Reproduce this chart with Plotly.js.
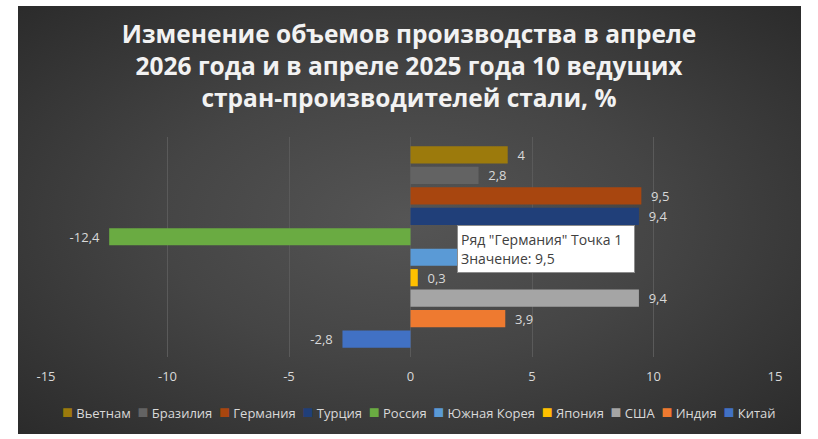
<!DOCTYPE html>
<html>
<head>
<meta charset="utf-8">
<script src="https://cdn.plot.ly/plotly-3.0.1.min.js"></script>
<style>
  html, body { margin: 0; padding: 0; background: #ffffff; }
  #wrap { position: relative; width: 818px; height: 439px; }
  #bg { position: absolute; left: 18px; top: 6px; width: 783px; height: 428px;
        background: radial-gradient(ellipse at 50% 50%, #555555 0%, #454545 45%, #2b2b2b 100%); }
  #chart { position: absolute; left: 0; top: 0; width: 818px; height: 439px; }
</style>
</head>
<body>
<div id="wrap"><div id="bg"></div><div id="chart"></div></div>
<script>
// Data (legend order, top to bottom)
const countries = ["Вьетнам", "Бразилия", "Германия", "Турция", "Россия", "Южная Корея", "Япония", "США", "Индия", "Китай"];
const values    = [4, 2.8, 9.5, 9.4, -12.4, 4.9, 0.3, 9.4, 3.9, -2.8];
const colors    = ["#9C7A0C", "#636363", "#A8460F", "#203F79", "#6AAB42", "#5A9AD6", "#FFC000", "#A5A5A5", "#EE7A30", "#4171C4"];
const category  = ["Апрель"];
const xTicks    = [-15, -10, -5, 0, 5, 10, 15];
const titleText = "Изменение объемов производства в апреле<br>2026 года и в апреле 2025 года 10 ведущих<br>стран-производителей стали, %";
const tooltipText = "Ряд \"Германия\" Точка 1<br>Значение: 9,5";

const NB = '\u00A0';
const fmt = v => String(v).replace('.', ',');
const padLabel = v => v < 0 ? fmt(v) + NB + NB : NB + NB + fmt(v);

const traces = [];
for (let i = countries.length - 1; i >= 0; i--) {
  traces.push({
    type: 'bar',
    orientation: 'h',
    name: countries[i],
    y: category,
    x: [values[i]],
    marker: { color: colors[i] },
    text: [padLabel(values[i])],
    textposition: 'outside',
    constraintext: 'none',
    cliponaxis: false,
    textfont: { color: '#D9D9D9', size: 13, family: 'Open Sans, sans-serif' },
    hoverinfo: 'none',
    showlegend: false
  });
}

// Compact single-row legend built from the series names and colours
const legendText = countries.map((c, i) =>
  '<span style="color:' + colors[i] + ';font-size:18px">■</span>' + NB + c
).join(NB + NB);

const layout = {
  width: 818,
  height: 439,
  paper_bgcolor: 'rgba(0,0,0,0)',
  plot_bgcolor: 'rgba(0,0,0,0)',
  margin: { l: 46, r: 43, t: 137, b: 82 },
  barmode: 'group',
  bargap: 0.07,
  bargroupgap: 0.16,
  separators: ', ',
  title: {
    text: titleText,
    x: 0.5, xanchor: 'center',
    y: 0.902, yanchor: 'middle',
    font: { family: 'Open Sans, sans-serif', size: 24.5, color: '#F2F2F2', weight: 700 }
  },
  xaxis: {
    range: [-15, 15],
    tickvals: xTicks,
    ticktext: xTicks.map(fmt),
    showgrid: true,
    gridcolor: '#5A5A5A',
    gridwidth: 1,
    zeroline: true,
    zerolinecolor: '#5A5A5A',
    zerolinewidth: 1,
    showline: false,
    ticks: '',
    ticklabelstandoff: 10,
    tickfont: { family: 'Open Sans, sans-serif', size: 13, color: '#D9D9D9' },
    fixedrange: true
  },
  yaxis: {
    showticklabels: false,
    showgrid: false,
    zeroline: false,
    showline: false,
    ticks: '',
    fixedrange: true
  },
  showlegend: false,
  annotations: [{
    xref: 'paper', yref: 'paper',
    x: 0.512, y: -0.245,
    xanchor: 'center', yanchor: 'middle',
    text: legendText,
    showarrow: false,
    font: { family: 'Open Sans, sans-serif', size: 13, color: '#D9D9D9' }
  }, {
    xref: 'paper', yref: 'paper',
    x: 0.564, y: 0.6,
    xanchor: 'left', yanchor: 'top',
    text: tooltipText,
    showarrow: false,
    align: 'left',
    bgcolor: '#FFFFFF',
    bordercolor: '#8C8C8C',
    borderwidth: 1,
    borderpad: 3,
    width: 170,
    height: 40,
    font: { family: 'Open Sans, sans-serif', size: 14, color: '#404040' }
  }]
};

Plotly.newPlot('chart', traces, layout, { displayModeBar: false, staticPlot: true });
</script>
</body>
</html>
